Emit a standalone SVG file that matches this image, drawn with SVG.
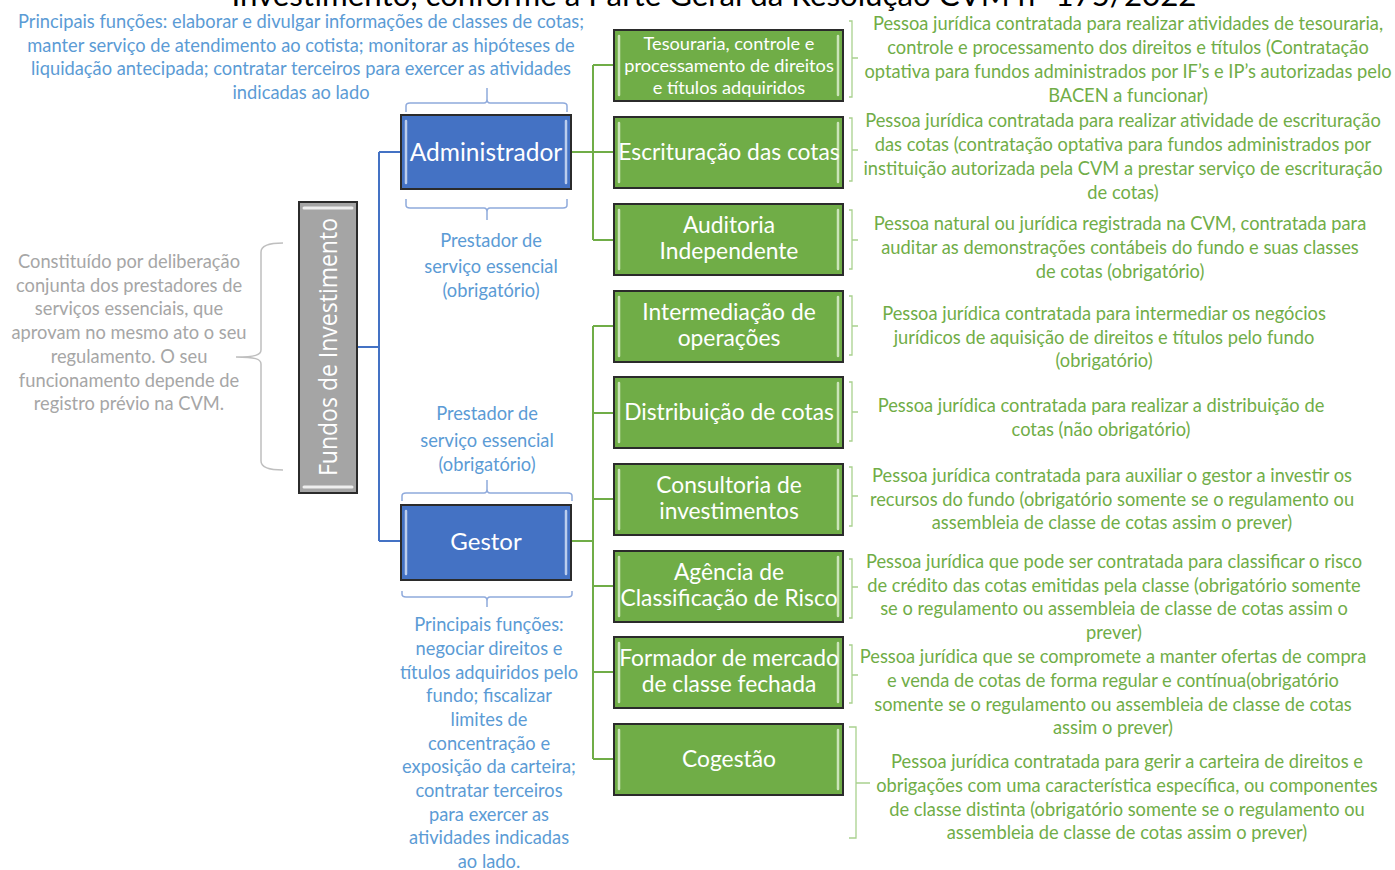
<svg xmlns="http://www.w3.org/2000/svg" width="1395" height="870" viewBox="0 0 1395 870">
<style>
.bg{fill:#ffffff}
.title{font-family:"Lato","Liberation Sans",sans-serif;font-size:30px;fill:#000000;text-anchor:middle}
.desc{font-family:"Lato","Liberation Sans",sans-serif;font-size:18.3px;fill:#70AD47;text-anchor:middle}
.blue{font-family:"Lato","Liberation Sans",sans-serif;font-size:18.3px;fill:#5B9BD5;text-anchor:middle}
.gray{font-family:"Lato","Liberation Sans",sans-serif;font-size:18.3px;fill:#A6A6A6;text-anchor:middle}
.btxt{font-family:"Lato","Liberation Sans",sans-serif;font-size:22.8px;fill:#ffffff;text-anchor:middle}
.btxt-s{font-family:"Lato","Liberation Sans",sans-serif;font-size:18.2px;fill:#ffffff;text-anchor:middle}
.gbox{fill:#70AD47;stroke:#2B2B2B;stroke-width:2}
.bbox{fill:#4472C4;stroke:#2B2B2B;stroke-width:2}
.fbox{fill:#A5A5A5;stroke:#2B2B2B;stroke-width:2}
.gstrip{stroke:#D5EBC6;stroke-width:2.5;stroke-linecap:round;opacity:0.9}
.bstrip{stroke:#C9D8F2;stroke-width:2.5;stroke-linecap:round;opacity:0.9}
.fstrip{stroke:#F2F2F2;stroke-width:3;stroke-linecap:round;opacity:0.95}
.conn-b{fill:none;stroke:#4472C4;stroke-width:2}
.conn-g{fill:none;stroke:#70AD47;stroke-width:2}
.br-g{fill:none;stroke:#A9D18E;stroke-width:1.3}
.br-b{fill:none;stroke:#8FAADC;stroke-width:1.5}
.br-gr{fill:none;stroke:#BFBFBF;stroke-width:1.5}
</style>
<rect class="bg" x="0" y="0" width="1395" height="870"/>

<text class="title" x="714" y="6" textLength="965" lengthAdjust="spacingAndGlyphs">Investimento, conforme a Parte Geral da Resolução CVM nº 175/2022</text>

<g id="connectors">
  <path class="conn-b" d="M357,347 H379 M379,152 V541 M379,152 H401 M379,541 H401"/>
  <path class="conn-g" d="M571,152 H593 M593,65 V240 M593,65 H614 M593,152 H614 M593,240 H614"/>
  <path class="conn-g" d="M571,541 H593 M593,326 V759 M593,326 H614 M593,413 H614 M593,499 H614 M593,586 H614 M593,672 H614 M593,759 H614"/>
</g>

<g id="fundos">
  <rect class="fbox" x="299" y="202" width="58" height="291"/>
  <line class="fstrip" x1="304" y1="208" x2="352" y2="208"/>
  <line class="fstrip" x1="304" y1="487" x2="352" y2="487"/>
  <text x="0" y="0" transform="translate(337,347) rotate(-90)" style="font-family:'Open Sans','DejaVu Sans',sans-serif;font-size:25px;fill:#ffffff;text-anchor:middle" textLength="258" lengthAdjust="spacingAndGlyphs">Fundos de Investimento</text>
</g>

<g id="fundos-note">
  <path class="br-gr" d="M283,243 C270,243 261,245 261,252 V350 C261,355 255,357 236,357 C255,357 261,359 261,364 V461 C261,468 270,470 283,470"/>
  <text class="gray" x="129" y="268">Constituído por deliberação</text>
  <text class="gray" x="129" y="292">conjunta dos prestadores de</text>
  <text class="gray" x="129" y="315">serviços essenciais, que</text>
  <text class="gray" x="129" y="339">aprovam no mesmo ato o seu</text>
  <text class="gray" x="129" y="363">regulamento. O seu</text>
  <text class="gray" x="129" y="387">funcionamento depende de</text>
  <text class="gray" x="129" y="410">registro prévio na CVM.</text>
</g>

<g id="administrador">
  <rect class="bbox" x="401" y="115" width="170" height="74"/>
  <line class="bstrip" x1="406" y1="121" x2="406" y2="183"/>
  <line class="bstrip" x1="566" y1="121" x2="566" y2="183"/>
  <text class="btxt" x="486" y="161" style="font-size:24.5px">Administrador</text>
</g>

<g id="administrador-notes">
  <path class="br-b" d="M406,112 V106 Q406,103 410,103 H484 Q487,103 487,99 V88 M487,99 Q487,103 490,103 H563 Q567,103 567,106 V112"/>
  <text class="blue" x="301" y="28">Principais funções: elaborar e divulgar informações de classes de cotas;</text>
  <text class="blue" x="301" y="52">manter serviço de atendimento ao cotista; monitorar as hipóteses de</text>
  <text class="blue" x="301" y="75">liquidação antecipada; contratar terceiros para exercer as atividades</text>
  <text class="blue" x="301" y="99">indicadas ao lado</text>
  <path class="br-b" d="M406,199 V205 Q406,208 410,208 H484 Q487,208 487,212 V220 M487,212 Q487,208 490,208 H563 Q567,208 567,205 V199"/>
  <text class="blue" x="491" y="247">Prestador de</text>
  <text class="blue" x="491" y="273">serviço essencial</text>
  <text class="blue" x="491" y="297">(obrigatório)</text>
</g>

<g id="gestor">
  <rect class="bbox" x="401" y="505" width="170" height="75"/>
  <line class="bstrip" x1="406" y1="511" x2="406" y2="574"/>
  <line class="bstrip" x1="566" y1="511" x2="566" y2="574"/>
  <text class="btxt" x="486" y="550" style="font-size:24px">Gestor</text>
</g>

<g id="gestor-notes">
  <text class="blue" x="487" y="420">Prestador de</text>
  <text class="blue" x="487" y="447">serviço essencial</text>
  <text class="blue" x="487" y="471">(obrigatório)</text>
  <path class="br-b" d="M402,501 V496 Q402,493 406,493 H484 Q487,493 487,489 V480 M487,489 Q487,493 490,493 H568 Q572,493 572,496 V501"/>
  <path class="br-b" d="M402,591 V594 Q402,597 406,597 H484 Q487,597 487,601 V607 M487,601 Q487,597 490,597 H568 Q572,597 572,594 V591"/>
  <text class="blue" x="489" y="631">Principais funções:</text>
  <text class="blue" x="489" y="655">negociar direitos e</text>
  <text class="blue" x="489" y="679">títulos adquiridos pelo</text>
  <text class="blue" x="489" y="702">fundo; fiscalizar</text>
  <text class="blue" x="489" y="726">limites de</text>
  <text class="blue" x="489" y="750">concentração e</text>
  <text class="blue" x="489" y="773">exposição da carteira;</text>
  <text class="blue" x="489" y="797">contratar terceiros</text>
  <text class="blue" x="489" y="821">para exercer as</text>
  <text class="blue" x="489" y="844">atividades indicadas</text>
  <text class="blue" x="489" y="868">ao lado.</text>
</g>

<g id="tesouraria">
  <rect class="gbox" x="614" y="30" width="229" height="71"/>
  <line class="gstrip" x1="619" y1="36" x2="619" y2="95"/>
  <line class="gstrip" x1="838" y1="36" x2="838" y2="95"/>
  <text class="btxt-s" x="729" y="50">Tesouraria, controle e</text>
  <text class="btxt-s" x="729" y="72">processamento de direitos</text>
  <text class="btxt-s" x="729" y="94">e títulos adquiridos</text>
  <path class="br-g" d="M849,21 H852 V97 H849 M852,58 H858"/>
  <text class="desc" x="1128" y="30">Pessoa jurídica contratada para realizar atividades de tesouraria,</text>
  <text class="desc" x="1128" y="54">controle e processamento dos direitos e títulos (Contratação</text>
  <text class="desc" x="1128" y="78">optativa para fundos administrados por IF’s e IP’s autorizadas pelo</text>
  <text class="desc" x="1128" y="102">BACEN a funcionar)</text>
</g>

<g id="escrituracao">
  <rect class="gbox" x="614" y="117" width="229" height="71"/>
  <line class="gstrip" x1="619" y1="123" x2="619" y2="182"/>
  <line class="gstrip" x1="838" y1="123" x2="838" y2="182"/>
  <text class="btxt" x="729" y="160">Escrituração das cotas</text>
  <path class="br-g" d="M849,118 H852 V181 H849 M852,150 H858"/>
  <text class="desc" x="1123" y="127">Pessoa jurídica contratada para realizar atividade de escrituração</text>
  <text class="desc" x="1123" y="151">das cotas (contratação optativa para fundos administrados por</text>
  <text class="desc" x="1123" y="175">instituição autorizada pela CVM a prestar serviço de escrituração</text>
  <text class="desc" x="1123" y="199">de cotas)</text>
</g>

<g id="auditoria">
  <rect class="gbox" x="614" y="204" width="229" height="71"/>
  <line class="gstrip" x1="619" y1="210" x2="619" y2="269"/>
  <line class="gstrip" x1="838" y1="210" x2="838" y2="269"/>
  <text class="btxt" x="729" y="233">Auditoria</text>
  <text class="btxt" x="729" y="259">Independente</text>
  <path class="br-g" d="M849,210 H852 V269 H849 M852,240 H858"/>
  <text class="desc" x="1120" y="230">Pessoa natural ou jurídica registrada na CVM, contratada para</text>
  <text class="desc" x="1120" y="254">auditar as demonstrações contábeis do fundo e suas classes</text>
  <text class="desc" x="1120" y="278">de cotas (obrigatório)</text>
</g>

<g id="intermediacao">
  <rect class="gbox" x="614" y="291" width="229" height="71"/>
  <line class="gstrip" x1="619" y1="297" x2="619" y2="356"/>
  <line class="gstrip" x1="838" y1="297" x2="838" y2="356"/>
  <text class="btxt" x="729" y="320">Intermediação de</text>
  <text class="btxt" x="729" y="346">operações</text>
  <path class="br-g" d="M849,296 H852 V355 H849 M852,326 H858"/>
  <text class="desc" x="1104" y="320">Pessoa jurídica contratada para intermediar os negócios</text>
  <text class="desc" x="1104" y="344">jurídicos de aquisição de direitos e títulos pelo fundo</text>
  <text class="desc" x="1104" y="367">(obrigatório)</text>
</g>

<g id="distribuicao">
  <rect class="gbox" x="614" y="377" width="229" height="71"/>
  <line class="gstrip" x1="619" y1="383" x2="619" y2="442"/>
  <line class="gstrip" x1="838" y1="383" x2="838" y2="442"/>
  <text class="btxt" x="729" y="420">Distribuição de cotas</text>
  <path class="br-g" d="M849,382 H852 V441 H849 M852,412 H858"/>
  <text class="desc" x="1101" y="412">Pessoa jurídica contratada para realizar a distribuição de</text>
  <text class="desc" x="1101" y="436">cotas (não obrigatório)</text>
</g>

<g id="consultoria">
  <rect class="gbox" x="614" y="464" width="229" height="71"/>
  <line class="gstrip" x1="619" y1="470" x2="619" y2="529"/>
  <line class="gstrip" x1="838" y1="470" x2="838" y2="529"/>
  <text class="btxt" x="729" y="493">Consultoria de</text>
  <text class="btxt" x="729" y="519">investimentos</text>
  <path class="br-g" d="M849,467 H852 V526 H849 M852,496 H858"/>
  <text class="desc" x="1112" y="482">Pessoa jurídica contratada para auxiliar o gestor a investir os</text>
  <text class="desc" x="1112" y="506">recursos do fundo (obrigatório somente se o regulamento ou</text>
  <text class="desc" x="1112" y="529">assembleia de classe de cotas assim o prever)</text>
</g>

<g id="agencia">
  <rect class="gbox" x="614" y="551" width="229" height="71"/>
  <line class="gstrip" x1="619" y1="557" x2="619" y2="616"/>
  <line class="gstrip" x1="838" y1="557" x2="838" y2="616"/>
  <text class="btxt" x="729" y="580">Agência de</text>
  <text class="btxt" x="729" y="606">Classificação de Risco</text>
  <path class="br-g" d="M849,559 H852 V618 H849 M852,587 H858"/>
  <text class="desc" x="1114" y="568">Pessoa jurídica que pode ser contratada para classificar o risco</text>
  <text class="desc" x="1114" y="592">de crédito das cotas emitidas pela classe (obrigatório somente</text>
  <text class="desc" x="1114" y="615">se o regulamento ou assembleia de classe de cotas assim o</text>
  <text class="desc" x="1114" y="639">prever)</text>
</g>

<g id="formador">
  <rect class="gbox" x="614" y="637" width="229" height="71"/>
  <line class="gstrip" x1="619" y1="643" x2="619" y2="702"/>
  <line class="gstrip" x1="838" y1="643" x2="838" y2="702"/>
  <text class="btxt" x="729" y="666">Formador de mercado</text>
  <text class="btxt" x="729" y="692">de classe fechada</text>
  <path class="br-g" d="M849,645 H852 V703 H849 M852,675 H858"/>
  <text class="desc" x="1113" y="663">Pessoa jurídica que se compromete a manter ofertas de compra</text>
  <text class="desc" x="1113" y="687">e venda de cotas de forma regular e contínua(obrigatório</text>
  <text class="desc" x="1113" y="711">somente se o regulamento ou assembleia de classe de cotas</text>
  <text class="desc" x="1113" y="734">assim o prever)</text>
</g>

<g id="cogestao">
  <rect class="gbox" x="614" y="724" width="229" height="71"/>
  <line class="gstrip" x1="619" y1="730" x2="619" y2="789"/>
  <line class="gstrip" x1="838" y1="730" x2="838" y2="789"/>
  <text class="btxt" x="729" y="767">Cogestão</text>
  <path class="br-g" d="M849,727 H856 V838 H849 M856,783 H870"/>
  <text class="desc" x="1127" y="768">Pessoa jurídica contratada para gerir a carteira de direitos e</text>
  <text class="desc" x="1127" y="792">obrigações com uma característica específica, ou componentes</text>
  <text class="desc" x="1127" y="816">de classe distinta (obrigatório somente se o regulamento ou</text>
  <text class="desc" x="1127" y="839">assembleia de classe de cotas assim o prever)</text>
</g>
</svg>
